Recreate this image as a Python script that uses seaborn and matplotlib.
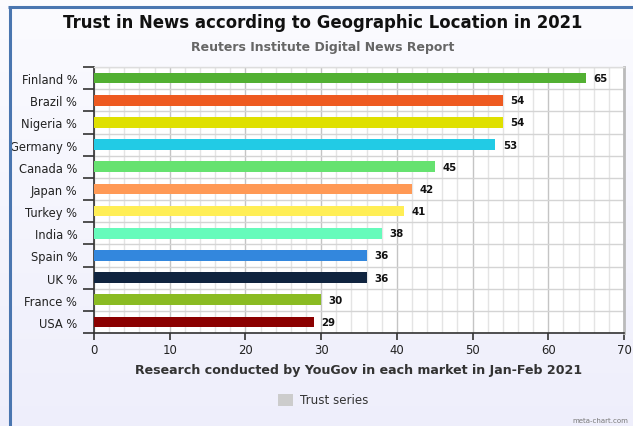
import numpy as np
import pandas as pd
import matplotlib
matplotlib.use("Agg")
import matplotlib.pyplot as plt
import seaborn as sns
from matplotlib.lines import Line2D
from matplotlib.patches import Rectangle
from matplotlib.ticker import MultipleLocator, FixedLocator

categories = ["Finland %", "Brazil %", "Nigeria %", "Germany %", "Canada %", "Japan %",
              "Turkey %", "India %", "Spain %", "UK %", "France %", "USA %"]
values = [65, 54, 54, 53, 45, 42, 41, 38, 36, 36, 30, 29]
colors = ["#52b032", "#ee5a20", "#dfe000", "#22cbe5", "#66e270", "#ff9955",
          "#ffee55", "#66fbbb", "#3387dd", "#10243f", "#8abb22", "#8b0000"]
title = "Trust in News according to Geographic Location in 2021"
subtitle = "Reuters Institute Digital News Report"
xlabel = "Research conducted by YouGov in each market in Jan-Feb 2021"
legend_label = "Trust series"

df = pd.DataFrame({"country": categories, "value": values})

sns.set_style("white")
plt.rcParams["font.family"] = ["DejaVu Sans"]

W, H = 633, 427
fig = plt.figure(figsize=(W / 100, H / 100), dpi=100)

# background gradient
bg = fig.add_axes([0, 0, 1, 1], zorder=-10)
grad = np.linspace(0, 1, 256).reshape(-1, 1)
top_c = np.array([0.985, 0.985, 1.0])
bot_c = np.array([0.935, 0.935, 0.985])
img = top_c[None, None, :] * (1 - grad[:, :, None]) + bot_c[None, None, :] * grad[:, :, None]
bg.imshow(img, aspect="auto", extent=[0, 1, 0, 1])
bg.set_axis_off()

ax = fig.add_axes([94 / W, 1 - 334 / H, (624 - 94) / W, (334 - 68) / H])
sns.barplot(data=df, y="country", x="value", hue="country", palette=colors,
            legend=False, width=0.48, ax=ax, saturation=1, zorder=3,
            edgecolor="none", linewidth=0)
ax.set_facecolor("white")
ax.set_xlim(0, 70)
ax.set_ylim(len(categories) - 0.5, -0.5)

# grid
ax.xaxis.set_major_locator(MultipleLocator(10))
ax.xaxis.set_minor_locator(MultipleLocator(2))
ax.yaxis.set_major_locator(FixedLocator(range(len(categories))))
ax.yaxis.set_minor_locator(FixedLocator(np.arange(-0.5, len(categories), 1)))
ax.grid(which="minor", axis="x", color="#e4e4e4", lw=1.0, zorder=0)
ax.grid(which="major", axis="x", color="#c4c4c4", lw=1.0, zorder=0)
ax.grid(which="minor", axis="y", color="#d4d4d4", lw=1.0, zorder=0)
ax.set_axisbelow(True)

ax.tick_params(axis="y", which="major", length=0, pad=12, labelsize=8.3, labelcolor="#222222")
ax.tick_params(axis="y", which="minor", length=8, width=1.2, color="#333333", left=True)
ax.tick_params(axis="x", which="major", length=5, width=1.2, color="#333333", bottom=True,
               labelsize=8.4, labelcolor="#222222", pad=2)
ax.tick_params(axis="x", which="minor", length=0)
ax.set_ylabel("")
ax.set_xlabel(xlabel, fontsize=9.1, fontweight="bold", color="#333333", labelpad=5)

for s in ["left", "bottom"]:
    ax.spines[s].set_color("#333333")
    ax.spines[s].set_linewidth(1.2)
ax.spines["right"].set_color("#bbbbbb")
ax.spines["right"].set_linewidth(2)
ax.spines["top"].set_color("#dddddd")
ax.spines["top"].set_linewidth(1)

for i, v in enumerate(values):
    ax.text(v + 1.0, i, str(v), va="center", ha="left", fontsize=7.4, fontweight="bold",
            color="#111111", zorder=5)

fig.text(323 / W, 1 - 23 / H, title, ha="center", va="center", fontsize=11.9,
         fontweight="bold", color="#111111")
fig.text(323 / W, 1 - 47 / H, subtitle, ha="center", va="center", fontsize=9,
         fontweight="bold", color="#666666")

# legend
fig.patches.append(Rectangle((278 / W, 1 - 407 / H), 15 / W, 12 / H,
                             transform=fig.transFigure, facecolor="#cccccc",
                             edgecolor="none"))
fig.text(300 / W, 1 - 401 / H, legend_label, ha="left", va="center", fontsize=8.6,
         color="#333333")
fig.text(628 / W, 1 - 421 / H, "meta-chart.com", ha="right", va="center", fontsize=5,
         color="#777777")

# frame border
fig.lines.append(Line2D([9.5 / W, 9.5 / W], [0, 1 - 8 / H], transform=fig.transFigure,
                        color="#4a76b0", lw=2.2, solid_capstyle="butt"))
fig.lines.append(Line2D([8.4 / W, 1], [1 - 8 / H, 1 - 8 / H], transform=fig.transFigure,
                        color="#4a76b0", lw=2.2, solid_capstyle="butt"))

fig.savefig("out.png", dpi=100)
